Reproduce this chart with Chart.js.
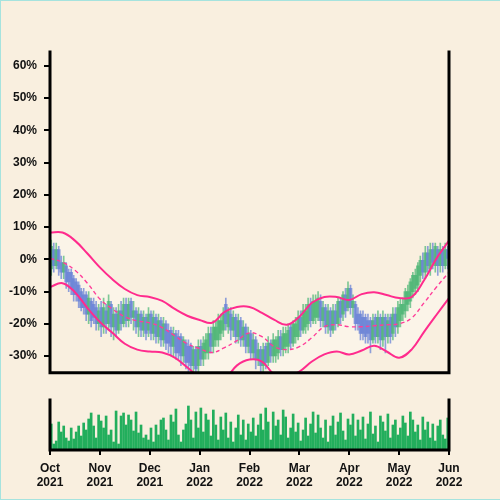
<!DOCTYPE html>
<html>
<head>
<meta charset="utf-8">
<script src="https://cdn.jsdelivr.net/npm/chart.js@4.4.1/dist/chart.umd.min.js"></script>
<style>
html,body{margin:0;padding:0;background:#f9efdf}
#wrap{position:relative;width:500px;height:500px;overflow:hidden;background:#f9efdf}
canvas{position:absolute;left:0}
#precos{top:2px}
#volume{top:387px}
#moldura{position:absolute;left:0;top:0;width:500px;height:500px;box-sizing:border-box;border-top:1px solid #a6e3de;border-left:1px solid #a6e3de;border-bottom:1px solid #a6e3de;pointer-events:none}
</style>
</head>
<body>
<div id="wrap">
<canvas id="precos" width="500" height="385"></canvas>
<canvas id="volume" width="500" height="113"></canvas>
<div id="moldura"></div>
</div>
<script>

// month ticks (trading-day index) and their labels
let monthTicks=[0,20,40,60,80,100,120,140,160]
let monthLabels=[
['Oct','2021'],['Nov','2021'],['Dec','2021'],['Jan','2022'],
['Feb','2022'],['Mar','2022'],['Apr','2022'],['May','2022'],['Jun','2022']
]
let yTicks=[-30,-20,-10,0,10,20,30,40,50,60]

// daily candles, % change
let opens=[
-3,3,-2,3,-1,-4,-2,-4,-4,-6,-7,-8,-10,-11,-11,-17,-13,-14,-15,-20,
-15,-21,-16,-20,-14,-21,-17,-22,-16,-20,-14,-19,-13,-18,-16,-21,-17,-22,-18,-22,
-17,-23,-18,-24,-19,-25,-20,-22,-22,-27,-23,-24,-24,-30,-26,-27,-27,-33,-28,-33,
-27,-31,-29,-29,-23,-27,-25,-25,-23,-22,-14,-21,-17,-22,-18,-24,-19,-25,-21,-27,
-23,-29,-25,-31,-28,-33,-27,-32,-26,-30,-30,-29,-24,-28,-27,-27,-21,-26,-24,-24,
-18,-22,-21,-20,-14,-19,-18,-18,-13,-19,-15,-21,-16,-22,-16,-20,-13,-17,-11,-15,
-9,-15,-14,-17,-17,-18,-18,-19,-19,-25,-18,-24,-18,-25,-18,-24,-18,-23,-17,-21,
-19,-17,-16,-14,-13,-10,-9,-8,-5,0,-4,2,-3,3,-2,3,-2,3,-2,3
]
let highs=[
6,5,5,4,1,1,-1,-3,-3,-5,-6,-7,-9,-9,-10,-10,-12,-12,-13,-14,
-13,-12,-14,-11,-13,-15,-15,-14,-13,-12,-12,-12,-12,-13,-15,-15,-16,-16,-17,-15,
-16,-16,-17,-17,-18,-18,-19,-20,-21,-21,-22,-22,-23,-24,-25,-25,-26,-27,-27,-25,
-25,-24,-23,-21,-21,-19,-19,-17,-17,-15,-12,-15,-15,-16,-17,-17,-18,-19,-20,-21,
-22,-23,-24,-26,-27,-26,-26,-24,-25,-23,-24,-22,-22,-21,-21,-20,-20,-19,-18,-16,
-16,-14,-14,-12,-12,-11,-11,-10,-11,-13,-14,-14,-15,-14,-14,-12,-12,-10,-9,-7,
-8,-11,-13,-15,-16,-16,-17,-17,-18,-17,-17,-16,-17,-16,-17,-17,-17,-15,-15,-13,
-12,-12,-9,-8,-6,-4,-3,-1,1,2,4,4,5,5,5,4,5,4,5,4
]
let lows=[
-5,-4,-3,-5,-6,-6,-9,-10,-11,-13,-13,-15,-16,-17,-19,-20,-21,-20,-22,-22,
-24,-23,-23,-22,-24,-25,-24,-23,-22,-21,-21,-21,-20,-22,-23,-24,-24,-24,-25,-24,
-25,-25,-26,-26,-27,-27,-28,-29,-30,-30,-31,-31,-33,-32,-34,-35,-37,-36,-37,-35,
-33,-33,-31,-31,-29,-29,-27,-27,-25,-24,-22,-23,-25,-24,-26,-26,-27,-27,-29,-29,
-31,-31,-34,-33,-36,-35,-34,-33,-32,-32,-32,-31,-30,-30,-29,-29,-28,-27,-26,-25,
-24,-23,-23,-22,-21,-20,-20,-19,-21,-21,-23,-23,-24,-23,-22,-21,-20,-19,-18,-16,
-17,-18,-22,-22,-25,-25,-26,-26,-29,-26,-26,-26,-28,-27,-29,-26,-26,-25,-24,-23,
-21,-19,-18,-16,-15,-12,-11,-10,-7,-6,-6,-4,-5,-3,-4,-5,-4,-4,-3,-3
]
let closes=[
4,-2,3,-3,-4,-1,-7,-7,-9,-11,-11,-13,-15,-15,-17,-12,-19,-18,-20,-16,
-21,-15,-20,-13,-21,-17,-22,-16,-20,-14,-19,-14,-18,-16,-21,-17,-22,-18,-23,-17,
-23,-18,-24,-19,-25,-20,-26,-26,-27,-23,-29,-29,-30,-25,-32,-32,-33,-28,-34,-27,
-31,-26,-25,-23,-27,-21,-21,-19,-19,-17,-20,-16,-22,-18,-24,-19,-25,-21,-27,-23,
-29,-25,-31,-28,-33,-28,-32,-26,-30,-25,-25,-24,-28,-23,-23,-22,-26,-20,-20,-18,
-22,-16,-16,-14,-19,-13,-13,-12,-19,-15,-21,-16,-22,-16,-20,-13,-18,-11,-16,-9,
-15,-13,-20,-20,-23,-23,-24,-23,-25,-19,-24,-18,-25,-18,-24,-19,-24,-17,-21,-15,
-14,-14,-10,-10,-7,-5,-5,-2,0,-4,2,-2,3,-1,4,-2,3,-2,3,0
]
let volumes=[
26,6,9,28,18,24,12,9,22,11,18,24,14,27,20,31,37,24,12,35,
29,22,34,15,20,8,39,6,34,37,25,35,30,19,38,17,25,12,15,10,
22,8,25,15,30,32,20,10,35,28,41,15,8,20,26,44,30,12,38,22,
42,18,36,30,14,40,25,10,33,20,37,12,28,8,22,35,15,30,10,26,
18,32,14,25,36,20,42,28,10,38,24,30,15,40,33,12,22,36,18,27,
9,20,32,14,26,38,17,35,22,12,30,8,24,34,15,28,37,19,10,31,
25,36,14,30,20,33,11,26,38,16,24,8,34,28,19,36,12,25,30,15,
22,34,27,14,38,30,18,25,10,33,20,28,12,26,9,24,30,15,11,32
]

// bollinger bands, read every 5 days
let bandIdx=[0,5,10,15,20,25,30,35,40,45,50,55,60,65,70,75,80,85,90,95,100,105,110,115,120,125,130,135,140,145,150,155,160]
let bandUpper=[8.3,8.3,5.8,1.8,-2.5,-6.2,-9.2,-11.1,-11.7,-12.9,-15.4,-17.5,-18.8,-19.7,-16.3,-14.8,-14.8,-16.6,-18.8,-20.3,-17.8,-13.5,-11.7,-11.7,-12.6,-10.8,-10.2,-11.1,-12.0,-11.7,-6.5,0.3,5.8]
let bandMiddle=[0.3,-0.9,-3.4,-7.4,-12.3,-15.4,-17.8,-19.1,-19.7,-21.2,-23.7,-26.2,-27.7,-28.9,-27.4,-25.2,-22.8,-24.0,-27.1,-28.0,-27.1,-24.3,-20.9,-20.3,-20.9,-20.9,-20.6,-20.3,-20.0,-18.2,-13.5,-8.6,-4.0]
let bandLower=[-8.6,-7.4,-10.2,-15.1,-19.4,-22.8,-26.2,-28.0,-28.6,-28.9,-30.5,-33.5,-36.6,-38.2,-37.2,-32.9,-31.1,-31.7,-35.7,-36.3,-34.8,-31.7,-29.5,-28.6,-29.5,-28.3,-26.8,-28.6,-30.5,-28.0,-22.5,-17.2,-12.0]

let fonte={family:'"Liberation Sans", Arial, sans-serif',weight:'bold',size:12}
let verde='rgba(66,178,110,0.68)'
let azul='rgba(100,126,214,0.72)'

let cores=closes.map((c,i)=>c>=opens[i]?verde:azul)

let corpos=closes.map((c,i)=>({x:i+0.5,y:[opens[i],c]}))
let pavios=closes.map((c,i)=>({x:i+0.5,y:[lows[i],highs[i]]}))

function banda(valores){
return bandIdx.map((x,k)=>({x:x,y:valores[k]}))
}

// thick black axis lines: left, right, bottom
let eixos={
id:'eixos',
afterDraw(chart){
let a=chart.chartArea
let ctx=chart.ctx
ctx.save()
ctx.strokeStyle='#000'
ctx.lineWidth=3
ctx.lineCap='square'
ctx.beginPath()
ctx.moveTo(a.left,a.top)
ctx.lineTo(a.left,a.bottom)
ctx.lineTo(a.right,a.bottom)
ctx.lineTo(a.right,a.top)
ctx.stroke()
ctx.restore()
}
}

new Chart(document.getElementById('precos'),{
type:'bar',
data:{
datasets:[
{
type:'line',
data:banda(bandUpper),
borderColor:'#ff2b8d',
borderWidth:2,
pointRadius:0,
tension:0.4,
fill:'+2',
backgroundColor:'rgba(255,255,255,0.3)'
},
{
type:'line',
data:banda(bandMiddle),
borderColor:'#ff3d98',
borderWidth:1.4,
borderDash:[4,3],
pointRadius:0,
tension:0.4,
fill:false
},
{
type:'line',
data:banda(bandLower),
borderColor:'#ff2b8d',
borderWidth:2,
pointRadius:0,
tension:0.4,
fill:false
},
{
data:corpos,
backgroundColor:cores,
barThickness:3,
grouped:false
},
{
data:pavios,
backgroundColor:cores,
barThickness:1,
grouped:false
}
]
},
options:{
responsive:false,
animation:false,
layout:{padding:{left:0,right:51,top:50,bottom:12}},
plugins:{
legend:{display:false},
tooltip:{enabled:false},
filler:{drawTime:'beforeDatasetsDraw'}
},
scales:{
x:{type:'linear',display:false,min:0,max:160,offset:false},
y:{
min:-35.2,
max:64.3,
afterBuildTicks:s=>{s.ticks=yTicks.map(v=>({value:v}))},
afterFit:s=>{s.width=50},
ticks:{callback:v=>v+'%',color:'#111',font:fonte,padding:7},
grid:{drawOnChartArea:false,color:'#000',lineWidth:2,tickLength:6},
border:{display:false}
}
}
},
plugins:[eixos]
})

new Chart(document.getElementById('volume'),{
type:'bar',
data:{
datasets:[{
data:volumes.map((v,i)=>({x:i+0.5,y:v})),
backgroundColor:'#22ae5c',
barThickness:2
}]
},
options:{
responsive:false,
animation:false,
layout:{padding:{left:50,right:51,top:13,bottom:0}},
plugins:{
legend:{display:false},
tooltip:{enabled:false}
},
scales:{
x:{
type:'linear',
min:0,
max:160,
offset:false,
afterBuildTicks:s=>{s.ticks=monthTicks.map(v=>({value:v}))},
afterFit:s=>{s.height=50},
ticks:{autoSkip:false,maxRotation:0,callback:(v,i)=>monthLabels[i],color:'#111',font:fonte,padding:6},
grid:{drawOnChartArea:false,offset:false,color:'#000',lineWidth:2,tickLength:5},
border:{display:false}
},
y:{display:false,min:0,max:50}
}
},
plugins:[eixos]
})

</script>
</body>
</html>
